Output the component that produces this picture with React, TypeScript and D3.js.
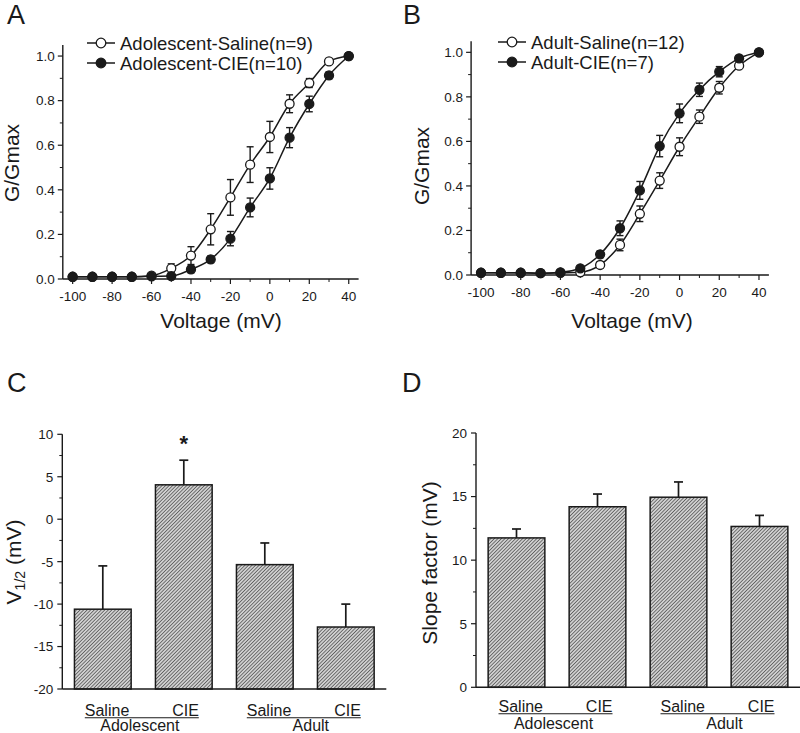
import React from 'react';
import * as d3 from 'd3';

// ---------- DATA ----------
const voltages = [-100, -90, -80, -70, -60, -50, -40, -30, -20, -10, 0, 10, 20, 30, 40];
const voltageTicks = [-100, -80, -60, -40, -20, 0, 20, 40];
const gTicks = [0, 0.2, 0.4, 0.6, 0.8, 1.0];

const adoSalineMean = [0.01, 0.01, 0.01, 0.01, 0.015, 0.048, 0.105, 0.223, 0.366, 0.513, 0.637, 0.786, 0.879, 0.976, 1.0];
const adoSalineErr = [0, 0, 0, 0, 0.005, 0.02, 0.04, 0.07, 0.08, 0.08, 0.07, 0.04, 0.02, 0.01, 0];
const adoCIEMean = [0.01, 0.01, 0.01, 0.01, 0.012, 0.013, 0.043, 0.088, 0.181, 0.321, 0.451, 0.634, 0.785, 0.913, 1.0];
const adoCIEErr = [0, 0, 0, 0, 0, 0.005, 0.015, 0.015, 0.032, 0.042, 0.048, 0.045, 0.035, 0.015, 0];
const adultSalineMean = [0.01, 0.01, 0.01, 0.008, 0.01, 0.012, 0.045, 0.135, 0.275, 0.424, 0.576, 0.711, 0.841, 0.94, 1.0];
const adultSalineErr = [0, 0, 0, 0, 0, 0.01, 0.015, 0.026, 0.035, 0.035, 0.04, 0.03, 0.028, 0.01, 0];
const adultCIEMean = [0.01, 0.01, 0.01, 0.008, 0.012, 0.03, 0.093, 0.21, 0.38, 0.579, 0.726, 0.832, 0.913, 0.973, 1.0];
const adultCIEErr = [0, 0, 0, 0, 0, 0.01, 0.015, 0.033, 0.04, 0.048, 0.042, 0.03, 0.023, 0.01, 0];

const legendA = ['Adolescent-Saline(n=9)', 'Adolescent-CIE(n=10)'];
const legendB = ['Adult-Saline(n=12)', 'Adult-CIE(n=7)'];

const barCategories = ['Adolescent-Saline', 'Adolescent-CIE', 'Adult-Saline', 'Adult-CIE'];
const groups = ['Adolescent', 'Adult'];
const treatments = ['Saline', 'CIE'];
const v12Mean = [-10.6, 4.05, -5.35, -12.7];
const v12Err = [5.1, 2.9, 2.55, 2.7];
const v12Ticks = [-20, -15, -10, -5, 0, 5, 10];
const slopeMean = [11.75, 14.2, 14.95, 12.65];
const slopeErr = [0.7, 1.0, 1.2, 0.87];
const slopeTicks = [0, 5, 10, 15, 20];
const significant = [false, true, false, false];

const FONT = "'Liberation Sans', Arial, Helvetica, sans-serif";
const INK = '#1a1a1a';

type Series = { mean: number[]; err: number[]; filled: boolean; label: string };

function LinePanel(props: {
  letter: string; letterX: number;
  x0: number; x1: number; yTop: number; yBottom: number;
  series: Series[];
  legendX: number; legendY: number;
  yLabelX: number; yLabelY: number; xLabelX: number; xLabelY: number;
}) {
  const { x0, x1, yTop, yBottom, series } = props;
  const x = d3.scaleLinear().domain([-105, 45]).range([x0, x1]);
  const y = d3.scaleLinear().domain([0, 1.05]).range([yBottom, yTop]);
  const line = d3.line<number>().x((_, i) => x(voltages[i])).y(d => y(d)).curve(d3.curveMonotoneX);
  const minorX = d3.range(-100, 41, 10).filter(v => !voltageTicks.includes(v));
  const minorY = d3.range(0.1, 1.01, 0.2);
  return (
    <g fontFamily={FONT} fill={INK}>
      <text x={props.letterX} y={24} fontSize={27}>{props.letter}</text>
      <line x1={x0} x2={x0} y1={yTop} y2={yBottom} stroke={INK} strokeWidth={1.4} />
      <line x1={x0} x2={x1} y1={yBottom} y2={yBottom} stroke={INK} strokeWidth={1.4} />
      {gTicks.map(t => (
        <g key={'gy' + t}>
          <line x1={x0 - 5} x2={x0} y1={y(t)} y2={y(t)} stroke={INK} strokeWidth={1.2} />
          <text x={x0 - 8} y={y(t)} dy="0.36em" fontSize={13.5} textAnchor="end">{t.toFixed(1)}</text>
        </g>
      ))}
      {minorY.map(t => (
        <line key={'my' + t} x1={x0 - 3} x2={x0} y1={y(t)} y2={y(t)} stroke={INK} strokeWidth={1} />
      ))}
      {voltageTicks.map(t => (
        <g key={'vx' + t}>
          <line x1={x(t)} x2={x(t)} y1={yBottom} y2={yBottom + 5} stroke={INK} strokeWidth={1.2} />
          <text x={x(t)} y={yBottom + 21.5} fontSize={13.5} textAnchor="middle">{t}</text>
        </g>
      ))}
      {minorX.map(t => (
        <line key={'mx' + t} x1={x(t)} x2={x(t)} y1={yBottom} y2={yBottom + 3} stroke={INK} strokeWidth={1} />
      ))}
      <text x={props.xLabelX} y={props.xLabelY} fontSize={21} textAnchor="middle">Voltage (mV)</text>
      <text transform={`translate(${props.yLabelX},${props.yLabelY}) rotate(-90)`} fontSize={21} textAnchor="middle">G/Gmax</text>
      {series.map((s, si) => (
        <g key={'s' + si}>
          <path d={line(s.mean) || ''} fill="none" stroke={INK} strokeWidth={1.5} />
          {s.mean.map((m, i) => s.err[i] > 0.004 ? (
            <g key={'e' + i} stroke={INK} strokeWidth={1.4}>
              <line x1={x(voltages[i])} x2={x(voltages[i])} y1={y(m - s.err[i])} y2={y(m + s.err[i])} />
              <line x1={x(voltages[i]) - 3.5} x2={x(voltages[i]) + 3.5} y1={y(m - s.err[i])} y2={y(m - s.err[i])} />
              <line x1={x(voltages[i]) - 3.5} x2={x(voltages[i]) + 3.5} y1={y(m + s.err[i])} y2={y(m + s.err[i])} />
            </g>
          ) : null)}
          {s.mean.map((m, i) => (
            <circle key={'c' + i} cx={x(voltages[i])} cy={y(m)} r={4.5}
              fill={s.filled ? INK : '#fff'} stroke={INK} strokeWidth={1.3} />
          ))}
        </g>
      ))}
      {series.map((s, si) => {
        const ly = props.legendY + si * 20;
        return (
          <g key={'l' + si}>
            <line x1={props.legendX} x2={props.legendX + 28} y1={ly} y2={ly} stroke={INK} strokeWidth={1.5} />
            <circle cx={props.legendX + 14} cy={ly} r={4.8} fill={s.filled ? INK : '#fff'} stroke={INK} strokeWidth={1.3} />
            <text x={props.legendX + 33} y={ly} dy="0.36em" fontSize={18.5}>{s.label}</text>
          </g>
        );
      })}
    </g>
  );
}

function BarPanel(props: {
  letter: string; letterX: number;
  x0: number; x1: number; yTop: number; yBottom: number;
  domain: [number, number]; ticks: number[];
  mean: number[]; err: number[];
  yLabel: React.ReactNode; yLabelX: number; yLabelY: number;
  catY: number; groupY: number;
}) {
  const { x0, x1, yTop, yBottom, domain } = props;
  const x = d3.scaleBand<string>().domain(barCategories).range([x0, x1]).paddingInner(0.3).paddingOuter(0.15);
  const y = d3.scaleLinear().domain(domain).range([yBottom, yTop]);
  const minor = props.ticks.slice(0, -1).map((t, i) => (t + props.ticks[i + 1]) / 2);
  return (
    <g fontFamily={FONT} fill={INK}>
      <text x={props.letterX} y={392} fontSize={27}>{props.letter}</text>
      {props.mean.map((m, i) => {
        const bx = x(barCategories[i])!;
        const bw = x.bandwidth();
        const cx = bx + bw / 2;
        const top = y(m);
        const et = y(m + props.err[i]);
        return (
          <g key={'b' + i}>
            <rect x={bx} y={top} width={bw} height={y(domain[0]) - top} fill="url(#hatch)" stroke={INK} strokeWidth={1.5} />
            <line x1={cx} x2={cx} y1={top} y2={et} stroke={INK} strokeWidth={1.7} />
            <line x1={cx - 4.5} x2={cx + 4.5} y1={et} y2={et} stroke={INK} strokeWidth={1.7} />
            {significant[i] && props.letter === 'C' ? (
              <text x={cx} y={et - 9} fontSize={22} fontWeight="bold" textAnchor="middle">*</text>
            ) : null}
          </g>
        );
      })}
      <line x1={x0} x2={x0} y1={yTop} y2={yBottom} stroke={INK} strokeWidth={1.4} />
      <line x1={x0} x2={x1} y1={yBottom} y2={yBottom} stroke={INK} strokeWidth={1.4} />
      {props.ticks.map(t => (
        <g key={'t' + t}>
          <line x1={x0 - 5} x2={x0} y1={y(t)} y2={y(t)} stroke={INK} strokeWidth={1.2} />
          <text x={x0 - 9} y={y(t)} dy="0.36em" fontSize={13.5} textAnchor="end">{t}</text>
        </g>
      ))}
      {minor.map(t => (
        <line key={'m' + t} x1={x0 - 3} x2={x0} y1={y(t)} y2={y(t)} stroke={INK} strokeWidth={1} />
      ))}
      {groups.map((g, gi) => {
        const c1 = x(barCategories[gi * 2])! + x.bandwidth() / 2;
        const c2 = x(barCategories[gi * 2 + 1])! + x.bandwidth() / 2;
        const s = c1 - 18;
        const e = c2 + 15;
        return (
          <g key={'g' + gi}>
            <text x={s} y={props.catY} fontSize={16}>{treatments[0]}</text>
            <text x={e} y={props.catY} fontSize={16} textAnchor="end">{treatments[1]}</text>
            <line x1={s} x2={e} y1={props.catY + 1.8} y2={props.catY + 1.8} stroke={INK} strokeWidth={1.1} />
            <text x={(s + e) / 2 + (gi === 0 ? -2 : 7)} y={props.groupY} fontSize={16} textAnchor="middle">{g}</text>
          </g>
        );
      })}
      <text transform={`translate(${props.yLabelX},${props.yLabelY}) rotate(-90)`} fontSize={21} textAnchor="middle">{props.yLabel}</text>
    </g>
  );
}

export default function App() {
  return (
    <div style={{ position: 'absolute', left: 0, top: 0 }}>
      <svg width={800} height={733} viewBox="0 0 800 733" style={{ display: 'block', background: '#fff' }}>
        <defs>
          <pattern id="hatch" width={2.5} height={2.5} patternUnits="userSpaceOnUse" patternTransform="rotate(45)">
            <rect width={2.5} height={2.5} fill="#d0d0d0" />
            <line x1={0} y1={0} x2={0} y2={2.5} stroke="#4a4a4a" strokeWidth={1.4} />
          </pattern>
        </defs>
        <rect width={800} height={733} fill="#fff" />
        <LinePanel letter="A" letterX={7} x0={62.8} x1={358.6} yTop={44.9} yBottom={279}
          series={[
            { mean: adoSalineMean, err: adoSalineErr, filled: false, label: legendA[0] },
            { mean: adoCIEMean, err: adoCIEErr, filled: true, label: legendA[1] },
          ]}
          legendX={87} legendY={43} yLabelX={19} yLabelY={163} xLabelX={221} xLabelY={328} />
        <LinePanel letter="B" letterX={403} x0={471.1} x1={768.9} yTop={41.2} yBottom={275}
          series={[
            { mean: adultSalineMean, err: adultSalineErr, filled: false, label: legendB[0] },
            { mean: adultCIEMean, err: adultCIEErr, filled: true, label: legendB[1] },
          ]}
          legendX={498} legendY={42} yLabelX={429} yLabelY={166} xLabelX={632} xLabelY={328} />
        <BarPanel letter="C" letterX={7} x0={62.3} x1={386.3} yTop={434.3} yBottom={689}
          domain={[-20, 10]} ticks={v12Ticks} mean={v12Mean} err={v12Err}
          yLabel={<>V<tspan fontSize={14} dy={4}>1/2</tspan><tspan dy={-4}> (mV)</tspan></>}
          yLabelX={21} yLabelY={562} catY={716} groupY={731} />
        <BarPanel letter="D" letterX={402} x0={476} x1={800} yTop={433} yBottom={687.3}
          domain={[0, 20]} ticks={slopeTicks} mean={slopeMean} err={slopeErr}
          yLabel="Slope factor (mV)"
          yLabelX={437} yLabelY={563} catY={712} groupY={729} />
      </svg>
    </div>
  );
}
